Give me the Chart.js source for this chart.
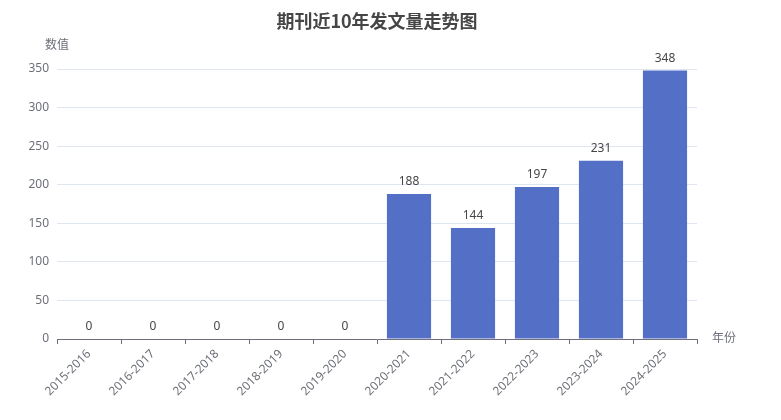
<!DOCTYPE html>
<html>
<head>
<meta charset="utf-8">
<script src="https://cdn.jsdelivr.net/npm/chart.js@4"></script>
<style>
	html, body { margin: 0; padding: 0; background: #fff; }
	#wrap { width: 781px; height: 420px; }
</style>
</head>
<body>
<div id="wrap"><canvas id="chart" width="781" height="420"></canvas></div>
<script>
	// data
	const categories = ['2015-2016', '2016-2017', '2017-2018', '2018-2019', '2019-2020', '2020-2021', '2021-2022', '2022-2023', '2023-2024', '2024-2025'];
	const counts = [0, 0, 0, 0, 0, 188, 144, 197, 231, 348];
	const titleText = '期刊近10年发文量走势图';
	const yAxisName = '数值';
	const xAxisName = '年份';

	const FONT = '"Noto Sans", "Noto Sans CJK SC", sans-serif';
	const TITLE_FONT = '"Noto Sans CJK SC", sans-serif';

	// title, axis names and bar labels
	const extras = {
		id: 'extras',
		afterDraw: function (chart) {
			const ctx = chart.ctx;
			const area = chart.chartArea;
			ctx.save();
			ctx.font = 'bold 18px ' + TITLE_FONT;
			ctx.fillStyle = '#464646';
			ctx.textAlign = 'center';
			ctx.textBaseline = 'middle';
			ctx.fillText(titleText, (area.left + area.right) / 2, 21);

			ctx.font = '12px ' + FONT;
			ctx.fillStyle = '#6e7079';
			ctx.fillText(yAxisName, area.left, 46);
			ctx.textAlign = 'left';
			ctx.fillText(xAxisName, area.right + 15, area.bottom);

			ctx.fillStyle = '#464646';
			ctx.textAlign = 'center';
			ctx.textBaseline = 'middle';
			const meta = chart.getDatasetMeta(0);
			meta.data.forEach(function (bar, i) {
				ctx.fillText(String(counts[i]), bar.x, bar.y - 12);
			});
			ctx.restore();
		}
	};

	new Chart(document.getElementById('chart'), {
		type: 'bar',
		data: {
			labels: categories,
			datasets: [{
				data: counts,
				backgroundColor: '#5470c6',
				categoryPercentage: 1,
				barPercentage: 0.69
			}]
		},
		options: {
			responsive: false,
			animation: false,
			layout: { padding: { top: 69, right: 84, left: 0, bottom: 0 } },
			plugins: {
				legend: { display: false },
				tooltip: { enabled: false }
			},
			scales: {
				x: {
					offset: true,
					grid: {
						offset: true,
						drawOnChartArea: false,
						tickLength: 5,
						color: '#6e7079'
					},
					border: { color: '#6e7079' },
					ticks: {
						minRotation: 45,
						maxRotation: 45,
						autoSkip: false,
						color: '#6e7079',
						font: { size: 12, family: FONT }
					},
					afterFit: function (scale) { scale.height = 81; }
				},
				y: {
					min: 0,
					max: 350,
					ticks: {
						stepSize: 50,
						padding: 8,
						color: '#6e7079',
						font: { size: 12, family: FONT }
					},
					grid: { color: '#e0e6f1', drawTicks: false },
					border: { display: false },
					afterFit: function (scale) { scale.width = 57; }
				}
			}
		},
		plugins: [extras]
	});
</script>
</body>
</html>
